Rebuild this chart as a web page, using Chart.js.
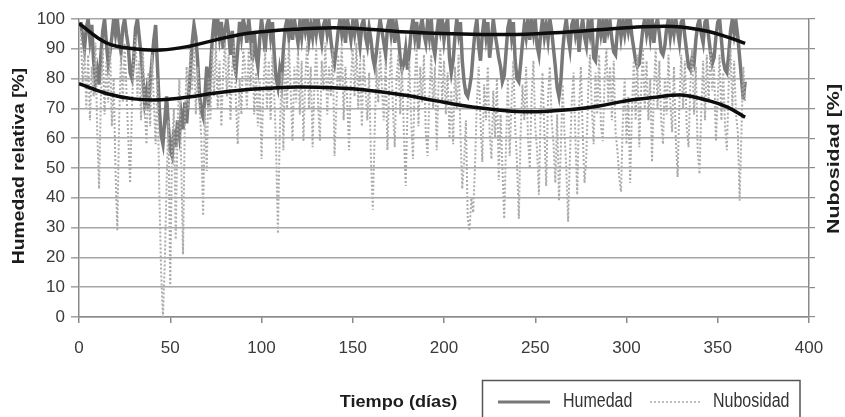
<!DOCTYPE html>
<html lang="es">
<head>
<meta charset="utf-8">
<title>Humedad relativa y nubosidad diaria</title>
<script src="https://cdn.jsdelivr.net/npm/chart.js@4/dist/chart.umd.min.js"></script>
<style>
  html, body { margin: 0; padding: 0; background: #ffffff; }
  #grafico { display: block; }
</style>
</head>
<body>
<canvas id="grafico" width="845" height="417"></canvas>
<script>
// Humedad relativa diaria [%], días 1..365
const humedad = [
  99, 94, 90, 97, 100, 93, 98, 86, 79, 83,
  78, 88, 96, 100, 92, 85, 89, 94, 100, 95,
  100, 93, 89, 97, 100, 95, 91, 82, 80, 87,
  97, 100, 94, 88, 80, 72, 76, 70, 79, 86,
  93, 98, 84, 70, 61, 58, 66, 74, 64, 56,
  54, 63, 57, 66, 61, 68, 63, 72, 65, 74,
  82, 92, 98, 94, 86, 75, 69, 67, 74, 84,
  71, 83, 93, 100, 95, 100, 94, 99, 90, 96,
  100, 95, 88, 96, 85, 82, 90, 99, 94, 100,
  97, 92, 100, 94, 86, 96, 88, 84, 93, 100,
  95, 89, 98, 100, 94, 99, 88, 80, 77, 83,
  79, 90, 97, 100, 94, 99, 93, 100, 96, 92,
  99, 94, 100, 96, 100, 93, 98, 94, 100, 95,
  100, 96, 92, 98, 100, 95, 99, 93, 88, 85,
  90, 96, 100, 95, 99, 92, 100, 97, 93, 99,
  95, 100, 96, 91, 98, 100, 94, 91, 97, 93,
  87, 84, 89, 95, 100, 96, 92, 88, 97, 100,
  95, 100, 92, 98, 94, 87, 83, 85, 90, 83,
  89, 96, 100, 94, 99, 90, 97, 100, 95, 92,
  99, 94, 100, 91, 88, 95, 100, 96, 100, 93,
  98, 100, 87, 82, 86, 94, 100, 95, 99, 86,
  79, 75, 74, 77, 81, 89, 96, 100, 91, 86,
  95, 100, 94, 99, 87, 93, 100, 95, 91, 87,
  84, 79, 81, 89, 97, 100, 94, 99, 86, 80,
  79, 85, 92, 98, 94, 100, 93, 99, 95, 100,
  91, 88, 95, 100, 94, 98, 93, 100, 96, 90,
  84, 77, 74, 79, 89, 96, 100, 94, 90, 98,
  100, 95, 99, 89, 96, 100, 94, 91, 99, 95,
  100, 87, 86, 93, 100, 95, 99, 92, 100, 96,
  99, 93, 89, 88, 96, 100, 94, 99, 95, 100,
  96, 100, 94, 90, 86, 84, 85, 91, 97, 100,
  95, 99, 94, 100, 92, 98, 100, 95, 89, 88,
  91, 97, 100, 94, 99, 95, 100, 96, 92, 99,
  100, 94, 89, 84, 83, 87, 85, 93, 98, 100,
  95, 92, 99, 100, 94, 89, 85, 87, 94, 99,
  100, 93, 86, 83, 82, 88, 96, 100, 95, 99,
  94, 87, 80, 73, 79
];

// Nubosidad diaria [%], días 1..365
const nubosidad = [
  96, 78, 90, 70, 88, 66, 84, 74, 92, 62,
  43, 74, 90, 68, 86, 72, 92, 64, 80, 49,
  29, 66, 88, 72, 92, 76, 60, 45, 70, 88,
  94, 74, 86, 66, 90, 70, 58, 82, 64, 88,
  72, 58, 80, 42, 15, 0, 18, 45, 66, 10,
  58, 70, 26, 64, 80, 52, 21, 66, 84, 70,
  90, 76, 92, 68, 84, 72, 60, 34, 70, 49,
  80, 66, 90, 74, 92, 70, 86, 64, 82, 92,
  74, 88, 66, 84, 92, 72, 58, 80, 68, 90,
  84, 70, 90, 76, 92, 68, 82, 64, 80, 53,
  76, 90, 70, 86, 66, 88, 74, 57, 28, 62,
  82, 56, 88, 70, 92, 76, 59, 84, 72, 90,
  68, 86, 59, 80, 92, 70, 84, 57, 78, 90,
  72, 59, 86, 76, 92, 68, 84, 74, 90, 54,
  70, 88, 76, 92, 66, 84, 72, 56, 80, 90,
  74, 92, 70, 86, 64, 88, 76, 66, 82, 52,
  36, 62, 84, 72, 90, 76, 66, 86, 56, 78,
  90, 70, 57, 80, 88, 68, 84, 62, 44, 70,
  86, 66, 53, 80, 90, 64, 84, 72, 88, 62,
  54, 74, 88, 70, 84, 56, 78, 90, 72, 86,
  68, 82, 60, 76, 58, 84, 70, 88, 62, 43,
  52, 66, 33, 29, 40, 35, 51, 72, 84, 66,
  52, 78, 66, 84, 62, 53, 76, 60, 80, 46,
  68, 50, 33, 58, 80, 54, 72, 86, 64, 52,
  33, 62, 78, 66, 84, 60, 50, 74, 86, 64,
  56, 41, 70, 82, 62, 44, 74, 84, 66, 58,
  45, 68, 39, 56, 78, 62, 50, 32, 54, 72,
  82, 60, 41, 70, 84, 62, 45, 54, 76, 88,
  70, 58, 82, 68, 88, 64, 59, 80, 90, 72,
  84, 66, 86, 62, 56, 47, 42, 66, 80, 58,
  74, 45, 70, 86, 66, 88, 57, 76, 90, 70,
  86, 66, 80, 52, 76, 90, 70, 86, 66, 58,
  80, 68, 88, 72, 62, 84, 60, 47, 72, 88,
  70, 86, 64, 57, 78, 90, 68, 84, 56, 48,
  70, 86, 66, 88, 72, 90, 76, 84, 59, 74,
  88, 66, 82, 64, 56, 78, 90, 70, 86, 68,
  62, 39, 63, 84, 72
];

const tendDias      = [0, 15, 30, 45, 60, 75, 90, 105, 120, 135, 150, 165, 180, 195, 210, 225, 240, 255, 270, 285, 300, 315, 330, 345, 355, 365];
const tendHumedad   = [98.5, 92, 90, 89.6, 90.8, 93, 95, 96, 96.6, 97, 96.9, 96.3, 95.6, 95.2, 95, 94.8, 94.8, 95.2, 95.7, 96.4, 97.1, 97.5, 97.3, 95.8, 94, 91.8];
const tendNubosidad = [78.3, 75, 73.2, 72.9, 73.8, 75.2, 76.2, 76.8, 77.2, 77, 76.6, 75.6, 74.3, 72.6, 71, 69.8, 69, 69, 69.6, 70.8, 72.6, 73.7, 74.5, 72.6, 70.5, 67];

// Marcas de los ejes
const ticksX = [0, 50, 100, 150, 200, 250, 300, 350, 400];
const ticksY = [0, 10, 20, 30, 40, 50, 60, 70, 80, 90, 100];

const tituloX = 'Tiempo (días)';
const tituloY = 'Humedad relativa [%]';
const tituloY2 = 'Nubosidad [%]';

const colorHumedad = '#787878';
const colorNubosidad = '#ababab';
const colorTendencia = '#0d0d0d';
const colorRejilla = '#a6a6a6';
const colorEje = '#8a8a8a';

const fuenteNormal = '"Liberation Sans", Arial, sans-serif';

const dias = humedad.map((_, i) => i + 1);
const puntos = (xs, ys) => xs.map((x, i) => ({ x, y: ys[i] }));

// Títulos de ejes y leyenda en recuadro, dibujados sobre el lienzo
const decoracion = {
  id: 'decoracion',
  afterDraw(chart) {
    const c = chart.ctx;
    c.save();
    c.fillStyle = '#1c1c1c';
    c.textAlign = 'center';
    c.textBaseline = 'middle';
    c.font = 'bold 16.5px ' + fuenteNormal;

    // título eje izquierdo
    c.save();
    c.translate(19, 166);
    c.rotate(-Math.PI / 2);
    c.scale(1.17, 1);
    c.fillText(tituloY, 0, 0);
    c.restore();

    // título eje derecho
    c.save();
    c.translate(834, 159);
    c.rotate(-Math.PI / 2);
    c.scale(1.3, 1);
    c.fillText(tituloY2, 0, 0);
    c.restore();

    // título eje horizontal
    c.save();
    c.textBaseline = 'alphabetic';
    c.translate(398.5, 406.5);
    c.scale(1.1, 1);
    c.fillText(tituloX, 0, 0);
    c.restore();

    // recuadro de la leyenda
    c.strokeStyle = '#555555';
    c.lineWidth = 1.5;
    c.strokeRect(482.5, 380.5, 317.5, 45);

    const ds = chart.data.datasets;
    c.lineWidth = 3;
    c.strokeStyle = ds[0].borderColor;
    c.beginPath();
    c.moveTo(498, 402);
    c.lineTo(550, 402);
    c.stroke();

    c.lineWidth = 1.5;
    c.strokeStyle = ds[1].borderColor;
    c.setLineDash([2, 2]);
    c.beginPath();
    c.moveTo(650, 402);
    c.lineTo(700, 402);
    c.stroke();
    c.setLineDash([]);

    // textos de la leyenda en letra estrecha
    c.fillStyle = '#333333';
    c.textAlign = 'left';
    c.textBaseline = 'alphabetic';
    c.font = '20px ' + fuenteNormal;
    c.save();
    c.translate(563, 407);
    c.scale(0.8, 1);
    c.fillText(ds[0].label, 0, 0);
    c.restore();
    c.save();
    c.translate(713, 407);
    c.scale(0.8, 1);
    c.fillText(ds[1].label, 0, 0);
    c.restore();
    c.restore();
  }
};

new Chart(document.getElementById('grafico'), {
  type: 'line',
  data: {
    datasets: [
      {
        label: 'Humedad',
        data: puntos(dias, humedad),
        borderColor: colorHumedad,
        borderWidth: 3.5,
        pointRadius: 0,
        tension: 0,
        order: 3,
        yAxisID: 'y'
      },
      {
        label: 'Nubosidad',
        data: puntos(dias, nubosidad),
        borderColor: colorNubosidad,
        borderWidth: 2,
        borderDash: [2, 2],
        pointRadius: 0,
        tension: 0,
        order: 2,
        yAxisID: 'y'
      },
      {
        label: 'Tendencia humedad',
        data: puntos(tendDias, tendHumedad),
        borderColor: colorTendencia,
        borderWidth: 3.5,
        pointRadius: 0,
        tension: 0.4,
        order: 1,
        yAxisID: 'y'
      },
      {
        label: 'Tendencia nubosidad',
        data: puntos(tendDias, tendNubosidad),
        borderColor: colorTendencia,
        borderWidth: 3.5,
        pointRadius: 0,
        tension: 0.4,
        order: 0,
        yAxisID: 'y'
      }
    ]
  },
  options: {
    responsive: false,
    animation: false,
    events: [],
    layout: { padding: { top: 19, left: 0, right: 0, bottom: 0 } },
    plugins: {
      legend: { display: false },
      tooltip: { enabled: false }
    },
    scales: {
      x: {
        type: 'linear',
        min: ticksX[0],
        max: ticksX[ticksX.length - 1],
        afterBuildTicks: s => { s.ticks = ticksX.map(v => ({ value: v })); },
        afterFit: s => { s.height = 100; },
        ticks: {
          font: { family: fuenteNormal, size: 17 },
          color: '#3a3a3a',
          padding: 15,
          maxRotation: 0
        },
        grid: { drawOnChartArea: false, drawTicks: true, tickLength: 6, color: colorEje, lineWidth: 1.5 },
        border: { display: true, color: colorEje, width: 1.5 }
      },
      y: {
        position: 'left',
        min: ticksY[0],
        max: ticksY[ticksY.length - 1],
        afterBuildTicks: s => { s.ticks = ticksY.map(v => ({ value: v })); },
        afterFit: s => { s.width = 79; },
        ticks: {
          font: { family: fuenteNormal, size: 17 },
          color: '#3a3a3a',
          padding: 6
        },
        grid: { color: colorRejilla, lineWidth: 1.6, tickLength: 8 },
        border: { display: true, color: colorEje, width: 1.5 }
      },
      y2: {
        position: 'right',
        min: ticksY[0],
        max: ticksY[ticksY.length - 1],
        afterBuildTicks: s => { s.ticks = ticksY.map(v => ({ value: v })); },
        afterFit: s => { s.width = 36; },
        ticks: { callback: () => '' },
        grid: { drawOnChartArea: false, drawTicks: true, tickLength: 6, color: colorEje, lineWidth: 1.2 },
        border: { display: true, color: colorEje, width: 1.5 }
      }
    }
  },
  plugins: [decoracion]
});
</script>
</body>
</html>
